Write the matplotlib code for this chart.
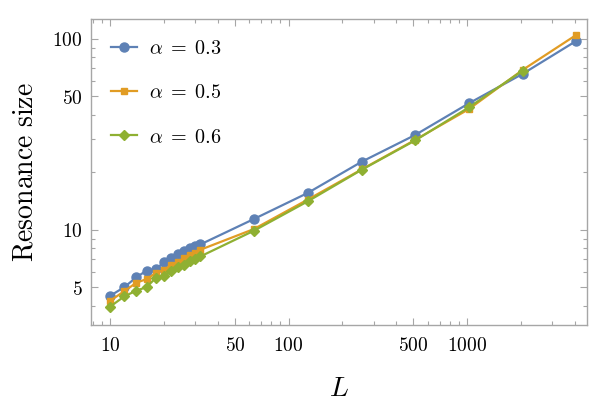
import matplotlib
matplotlib.use("Agg")
import matplotlib.pyplot as plt
from matplotlib.ticker import FixedLocator, FixedFormatter, NullFormatter

plt.rcParams["mathtext.fontset"] = "cm"

# L values (system sizes)
L_small = [10, 12, 14, 16, 18, 20, 22, 24, 26, 28, 30, 32]
L_large = [64, 128, 256, 512, 1024, 2048, 4096]

L_03 = L_small + L_large
size_03 = [4.51, 5.01, 5.63, 6.12, 6.22, 6.75, 7.13, 7.43, 7.73, 8.02, 8.18, 8.38,
           11.4, 15.6, 22.7, 31.4, 46.0, 65.6, 97.7]

L_05 = L_small + L_large
size_05 = [4.25, 4.77, 5.28, 5.52, 5.93, 6.18, 6.53, 6.79, 7.13, 7.40, 7.58, 7.86,
           10.1, 14.4, 20.7, 29.6, 42.9, 68.8, 105.0]

L_06 = L_small + L_large[:-1]
size_06 = [3.96, 4.48, 4.80, 5.01, 5.59, 5.70, 6.05, 6.38, 6.56, 6.83, 7.03, 7.25,
           9.9, 14.1, 20.6, 29.4, 43.8, 68.2]

x_major = [10, 50, 100, 500, 1000]
x_minor = [8, 9, 20, 30, 40, 60, 70, 80, 90, 200, 300, 400, 600, 700, 800, 900,
           2000, 3000, 4000]
y_major = [5, 10, 50, 100]
y_minor = [4, 6, 7, 8, 9, 20, 30, 40, 60, 70, 80, 90]

BLUE = "#5e81b5"
ORANGE = "#e19c24"
GREEN = "#8fb032"
GRAY = "#a6a6a6"

fig = plt.figure(figsize=(6, 4.05), dpi=100)
ax = fig.add_axes([0.152, 0.198, 0.826, 0.755])

ax.plot(L_03, size_03, color=BLUE, lw=1.6, marker="o", ms=6.5, label=r"$\alpha\;=\;0.3$")
ax.plot(L_05, size_05, color=ORANGE, lw=1.6, marker="s", ms=4.5, label=r"$\alpha\;=\;0.5$")
ax.plot(L_06, size_06, color=GREEN, lw=1.6, marker="D", ms=5, label=r"$\alpha\;=\;0.6$")

ax.set_xscale("log")
ax.set_yscale("log")
ax.set_xlim(7.83, 4680)
ax.set_ylim(3.18, 127)

ax.xaxis.set_major_locator(FixedLocator(x_major))
ax.xaxis.set_major_formatter(FixedFormatter([rf"${v}$" for v in x_major]))
ax.xaxis.set_minor_locator(FixedLocator(x_minor))
ax.xaxis.set_minor_formatter(NullFormatter())
ax.yaxis.set_major_locator(FixedLocator(y_major))
ax.yaxis.set_major_formatter(FixedFormatter([rf"${v}$" for v in y_major]))
ax.yaxis.set_minor_locator(FixedLocator(y_minor))
ax.yaxis.set_minor_formatter(NullFormatter())

ax.tick_params(which="both", direction="in", top=True, right=True, color=GRAY,
               labelsize=14, pad=8)
ax.tick_params(axis="y", pad=6)
ax.tick_params(which="major", length=5, width=0.8)
ax.tick_params(which="minor", length=3, width=0.8)
for sp in ax.spines.values():
    sp.set_color(GRAY)
    sp.set_linewidth(1.0)

ax.set_xlabel(r"$L$", fontsize=20, labelpad=14)
ax.set_ylabel(r"$\mathrm{Resonance\ size}$", fontsize=20, labelpad=10)

ax.legend(loc="upper left", frameon=False, fontsize=14.5, handlelength=1.25,
          handletextpad=0.6, labelspacing=1.25, borderaxespad=0.6)

fig.savefig("out.png", dpi=100)
